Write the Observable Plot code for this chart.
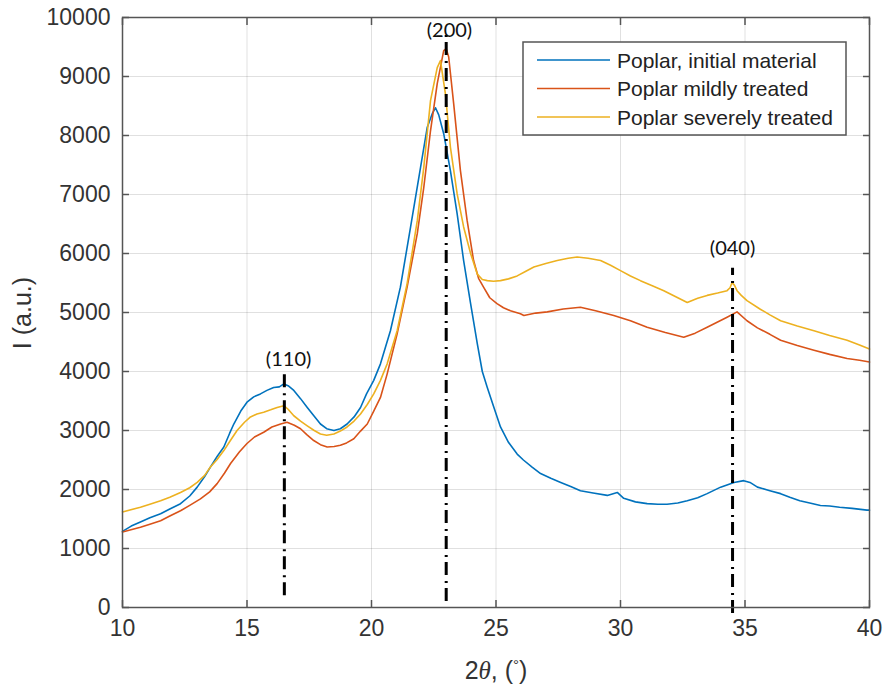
<!DOCTYPE html>
<html><head><meta charset="utf-8">
<script src="https://cdn.jsdelivr.net/npm/d3@7"></script>
<script src="https://cdn.jsdelivr.net/npm/@observablehq/plot@0.6"></script>
<style>body{margin:0;background:#fff} #chart{width:887px;height:690px}</style>
</head><body><div id="chart"></div>
<script>
const initialX = [10.0,10.35,10.72,11.1,11.53,11.9,12.33,12.7,13.0,13.3,13.53,13.8,14.07,14.3,14.47,14.75,15.0,15.27,15.54,15.8,16.07,16.3,16.48,16.65,16.88,17.15,17.42,17.7,17.95,18.2,18.49,18.75,19.02,19.3,19.56,19.8,20.09,20.36,20.76,21.16,21.57,21.97,22.24,22.45,22.57,22.7,22.9,23.17,23.44,23.7,23.98,24.25,24.45,24.65,24.91,25.18,25.5,25.85,26.1,26.45,26.79,27.2,27.6,28.0,28.39,28.9,29.47,29.87,30.13,30.6,31.07,31.5,31.87,32.3,32.68,33.1,33.48,34.02,34.56,34.95,35.2,35.5,36.0,36.43,36.8,37.2,37.6,38.03,38.4,38.8,39.3,39.9,40.0];
const initialI = [1290,1380,1450,1520,1590,1670,1760,1890,2040,2220,2380,2560,2720,2950,3110,3330,3480,3570,3620,3680,3730,3740,3790,3760,3680,3540,3390,3240,3110,3030,3000,3030,3110,3230,3390,3620,3850,4130,4690,5430,6450,7460,8140,8380,8470,8350,8030,7400,6670,5880,5150,4470,4000,3730,3400,3060,2800,2600,2500,2380,2270,2190,2120,2050,1980,1940,1900,1950,1850,1790,1760,1750,1750,1770,1810,1860,1930,2040,2120,2150,2120,2040,1980,1930,1870,1810,1770,1730,1720,1700,1680,1650,1650];

const mildX = [10.0,10.72,11.1,11.53,11.9,12.33,12.7,13.13,13.5,13.8,14.1,14.34,14.7,15.0,15.3,15.67,16.0,16.35,16.61,16.9,17.15,17.4,17.68,17.95,18.22,18.5,18.75,19.0,19.29,19.56,19.83,20.09,20.36,20.63,21.03,21.43,21.84,22.1,22.37,22.64,22.9,23.0,23.1,23.3,23.57,23.84,24.1,24.3,24.5,24.75,25.04,25.3,25.58,25.98,26.12,26.6,27.06,27.7,28.39,29.0,29.73,30.4,31.07,31.8,32.54,33.0,33.48,34.0,34.28,34.68,35.08,35.5,36.0,36.43,37.1,37.77,38.4,39.1,39.6,40.0];
const mildI = [1280,1360,1410,1470,1550,1640,1730,1840,1960,2100,2280,2440,2640,2780,2890,2970,3060,3110,3140,3090,3030,2930,2830,2760,2720,2730,2750,2790,2860,2990,3110,3330,3560,3960,4640,5430,6340,7120,8080,8880,9440,9470,9330,8540,7410,6560,5880,5580,5430,5250,5150,5080,5030,4980,4950,4990,5010,5060,5090,5030,4950,4860,4750,4660,4580,4650,4750,4860,4920,5010,4860,4740,4630,4530,4440,4360,4290,4220,4190,4160];

const severeX = [10.0,10.72,11.1,11.53,11.9,12.33,12.7,13.0,13.3,13.53,13.8,14.07,14.3,14.6,14.9,15.14,15.4,15.67,15.95,16.21,16.48,16.65,16.88,17.15,17.42,17.7,17.95,18.2,18.49,18.75,19.02,19.3,19.56,19.83,20.09,20.36,20.63,21.03,21.43,21.84,22.1,22.37,22.64,22.77,22.97,23.17,23.44,23.7,23.98,24.25,24.45,24.65,24.9,25.18,25.5,25.85,26.2,26.52,27.0,27.46,27.9,28.26,28.7,29.2,29.6,30.0,30.4,30.8,31.3,31.74,32.2,32.68,33.1,33.48,33.9,34.28,34.4,34.48,34.58,34.68,34.85,35.08,35.6,36.0,36.43,37.1,37.77,38.4,39.1,39.6,40.0];
const severeI = [1620,1700,1750,1810,1870,1950,2030,2120,2240,2380,2510,2660,2810,3000,3140,3230,3280,3310,3350,3390,3420,3360,3250,3160,3080,3000,2940,2920,2940,2990,3060,3160,3280,3440,3620,3850,4130,4690,5490,6560,7460,8590,9150,9270,8700,7800,7010,6450,6000,5650,5560,5540,5530,5540,5570,5620,5700,5770,5830,5880,5920,5940,5920,5880,5800,5710,5620,5540,5450,5370,5270,5170,5240,5290,5330,5370,5420,5510,5460,5370,5290,5200,5060,4960,4860,4770,4690,4610,4530,4450,4380];

const seriesNames = ["Poplar, initial material", "Poplar mildly treated", "Poplar severely treated"];
const seriesColors = ["#0072BD", "#D95319", "#EDB120"];
const xTicks = [10, 15, 20, 25, 30, 35, 40];
const yTicks = [0, 1000, 2000, 3000, 4000, 5000, 6000, 7000, 8000, 9000, 10000];
const xLabel = "2θ, (°)";
const yLabel = "I (a.u.)";

const peakLabels = ["(110)", "(200)", "(040)"];
const peakX = [16.5, 23, 34.5];
const peakLineTop = [4000, 9750, 5750];
const peakLineBottom = [200, 100, -100];
const peakLabelX = [16.67, 23.13, 34.5];
const peakLabelY = [4200, 9780, 6085];

const seriesX = [initialX, mildX, severeX];
const seriesI = [initialI, mildI, severeI];
const rows = seriesNames.flatMap((name, s) => seriesX[s].map((x, k) => ({series: name, x, i: seriesI[s][k]})));
const peaks = peakLabels.map((label, k) => ({label, x: peakX[k], top: peakLineTop[k], bottom: peakLineBottom[k], lx: peakLabelX[k], ly: peakLabelY[k]}));

const axisColor = "#333";
const tickFmt = d3.format("d");
const tickStyle = {tickSize: 7, tickFormat: () => "", label: null, stroke: "#555", strokeWidth: 1.5};

const plot = Plot.plot({
  width: 887, height: 690,
  marginLeft: 122, marginRight: 18, marginTop: 17, marginBottom: 83,
  style: {fontFamily: "'Liberation Sans', Arial, sans-serif", fontSize: "23px", color: axisColor, background: "#fff", overflow: "visible"},
  x: {domain: [10, 40]},
  y: {domain: [0, 10000]},
  color: {domain: seriesNames, range: seriesColors},
  marks: [
    Plot.gridX(xTicks, {stroke: "#000", strokeOpacity: 0.12, strokeWidth: 1}),
    Plot.gridY(yTicks, {stroke: "#000", strokeOpacity: 0.12, strokeWidth: 1}),
    Plot.line(rows, {x: "x", y: "i", z: "series", stroke: "series", strokeWidth: 1.6}),
    Plot.ruleX(peaks, {x: "x", y1: "bottom", y2: "top", stroke: "#000", strokeWidth: 3, strokeDasharray: "13,5,2,6", clip: false}),
    Plot.text(peaks, {x: "lx", y: "ly", text: "label", fill: "#111", fontSize: 20, fontFamily: "Lato, 'Open Sans', sans-serif"}),
    Plot.frame({stroke: "#555", strokeWidth: 1.5}),
    Plot.axisX(xTicks, {anchor: "bottom", tickSize: 0, tickPadding: 12, tickFormat: tickFmt, label: null, fill: axisColor}),
    Plot.axisY(yTicks, {anchor: "left", tickSize: 0, tickPadding: 12, tickFormat: tickFmt, label: null, fill: axisColor}),
    Plot.axisX(xTicks, {anchor: "bottom", dy: -7, ...tickStyle}),
    Plot.axisX(xTicks, {anchor: "top", dy: 7, ...tickStyle}),
    Plot.axisY(yTicks, {anchor: "left", dx: 7, ...tickStyle}),
    Plot.axisY(yTicks, {anchor: "right", dx: -7, ...tickStyle})
  ]
});

const svg = d3.select(plot);
// axis titles
const xt = svg.append("text").attr("x", 496).attr("y", 679).attr("text-anchor", "middle")
  .attr("font-size", 25).attr("fill", axisColor).attr("font-family", "'Liberation Sans', Arial, sans-serif");
xt.append("tspan").text("2");
xt.append("tspan").attr("font-style", "italic").attr("font-family", "'Liberation Serif', serif").text("θ");
xt.append("tspan").text(", (");
xt.append("tspan").attr("font-size", 15).attr("dy", -9).text("°");
xt.append("tspan").attr("dy", 9).text(")");
svg.append("text").attr("transform", "translate(31,313) rotate(-90)").attr("text-anchor", "middle")
  .attr("font-size", 25).attr("fill", axisColor).attr("font-family", "'Liberation Sans', Arial, sans-serif").text(yLabel);

// legend
const lg = svg.append("g").attr("font-family", "'Liberation Sans', Arial, sans-serif").attr("font-size", 21).attr("fill", "#222").attr("text-anchor", "start");
lg.append("rect").attr("x", 523).attr("y", 42).attr("width", 323).attr("height", 93).attr("fill", "#fff").attr("stroke", "#555").attr("stroke-width", 1.5);
seriesNames.forEach((name, k) => {
  const yy = 60 + k * 28.5;
  lg.append("line").attr("x1", 537).attr("x2", 610).attr("y1", yy).attr("y2", yy).attr("stroke", seriesColors[k]).attr("stroke-width", 1.6);
  lg.append("text").attr("x", 617).attr("y", yy).attr("dy", "0.36em").attr("text-anchor", "start").text(name);
});

document.getElementById("chart").append(plot);
</script>
</body></html>
